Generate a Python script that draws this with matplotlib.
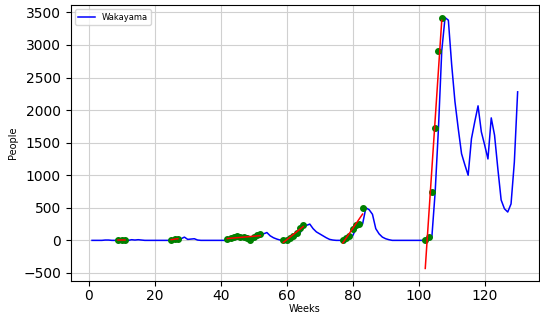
import numpy as np
import matplotlib
matplotlib.use("Agg")
import matplotlib.pyplot as plt

# weekly counts, weeks 1..130
weeks = np.arange(1, 131)
people = [
    0, 0, 0, 0, 5, 5, 0, 0, 0, 0,
    0, 0, 10, 5, 10, 5, 0, 0, 0, 0,
    0, 0, 0, 0, 0, 10, 20, 25, 50, 15,
    20, 25, 5, 0, 0, 0, 0, 0, 0, 0,
    0, 0, 20, 40, 50, 60, 50, 50, 30, 10,
    50, 90, 100, 120, 70, 40, 20, 5, 0, 0,
    10, 30, 60, 110, 190, 230, 250, 180, 130, 100,
    70, 40, 15, 5, 0, 0, 0, 10, 30, 70,
    180, 230, 250, 500, 470, 400, 180, 100, 50, 25,
    10, 0, 0, 0, 0, 0, 0, 0, 0, 0,
    0, 0, 0, 50, 740, 1720, 2910, 3420, 3380, 2700,
    2130, 1715, 1330, 1160, 1000, 1560, 1820, 2065, 1665, 1465,
    1250, 1880, 1615, 1100, 620, 485, 435, 560, 1200, 2280,
]

# growth segments (green points) and their values
seg_weeks = [
    [9, 10, 11],
    [25, 26, 27],
    list(range(42, 53)),
    list(range(59, 66)),
    list(range(77, 84)),
    list(range(102, 108)),
]
seg_values = [
    [0, 0, 0],
    [10, 20, 25],
    [20, 40, 50, 60, 50, 50, 30, 10, 50, 90, 100],
    [0, 10, 30, 60, 110, 190, 230],
    [10, 30, 70, 180, 230, 250, 500],
    [0, 50, 740, 1720, 2910, 3420],
]

fig = plt.figure(figsize=(5.4, 3.15), dpi=100)
ax = fig.add_axes([0.131, 0.108, 0.867, 0.876])

ax.plot(weeks, people, color="blue", lw=1.1, label="Wakayama")
for sw, sv in zip(seg_weeks, seg_values):
    sw = np.array(sw)
    ax.scatter(sw, sv, color="green", s=16, zorder=3)
    k, b = np.polyfit(sw, sv, 1)
    ax.plot(sw, k * sw + b, color="red", lw=1.1, zorder=4)

ax.grid(True, color="#d0d0d0")
ax.set_xlabel("Weeks", fontsize=7, labelpad=1)
ax.set_ylabel("People", fontsize=7)
ax.tick_params(labelsize=10)
ax.tick_params(axis="x", pad=2)
ax.legend(loc="upper left", fontsize=6)

fig.savefig("out.png", dpi=100)
